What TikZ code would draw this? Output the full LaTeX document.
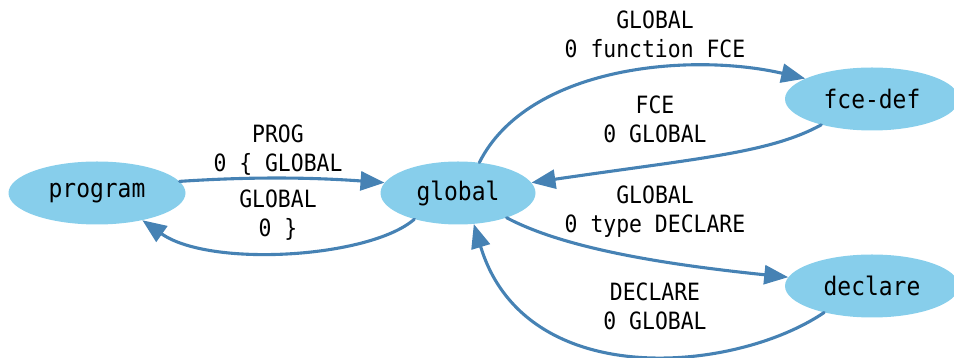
\documentclass[tikz,border=0pt]{standalone}
\usepackage{fontspec}
\setmonofont{DejaVu Sans Mono}[FakeStretch=0.9]
\usetikzlibrary{shapes.geometric,arrows.meta}
\definecolor{skyblue}{HTML}{87CEEB}
\definecolor{steelblue}{HTML}{4682B4}
\begin{document}
\begin{tikzpicture}[x=1pt, y=1pt, line join=round, line cap=round,
		state/.style={ellipse, fill=skyblue, inner sep=0pt, minimum height=63pt,
			font=\ttfamily\fontsize{25.5}{30}\selectfont},
		lbl/.style={align=center, inner sep=0pt, font=\ttfamily\fontsize{23.8}{29}\selectfont},
		trans/.style={draw=steelblue, line width=3.1pt, -{Triangle[length=24pt,width=19pt]}}]
			\useasboundingbox (0,0) rectangle (954,358);
			% states
			\node[state, minimum width=177pt] (program) at (97,165) {program};
			\node[state, minimum width=155pt] (global) at (458,165) {global};
			\node[state, minimum width=174pt] (fcedef) at (872,259) {fce-def};
			\node[state, minimum width=174pt] (declare) at (872,72) {declare};
			% transitions
			\draw[trans] (program.8) .. controls (260,182) and (320,180) .. (global.172);
			\draw[trans] (global.211) .. controls (370,100) and (210,90) .. (program.329);
			\draw[trans] (global.55) .. controls (528,292) and (690,306) .. (fcedef.163);
			\draw[trans] (fcedef.207) .. controls (770,205) and (700,200) .. (global.8);
			\draw[trans] (global.333) .. controls (560,112) and (650,95) .. (declare.174);
			\draw[trans] (declare.209) .. controls (735,-15) and (525,-35) .. (global.297);
			% labels
			\node[lbl] (prog) at (278,208) {PROG\\0 \{ GLOBAL};
			\node[lbl] (back) at (278,142.5) {GLOBAL\\0 \}};
			\node[lbl] (fce) at (655,324) {GLOBAL\\0 function FCE};
			\node[lbl] (fceret) at (655,239) {FCE\\0 GLOBAL};
			\node[lbl] (decl) at (655,146) {GLOBAL\\0 type DECLARE};
			\node[lbl] (declret) at (655,52) {DECLARE\\0 GLOBAL};
		\end{tikzpicture}
\end{document}
